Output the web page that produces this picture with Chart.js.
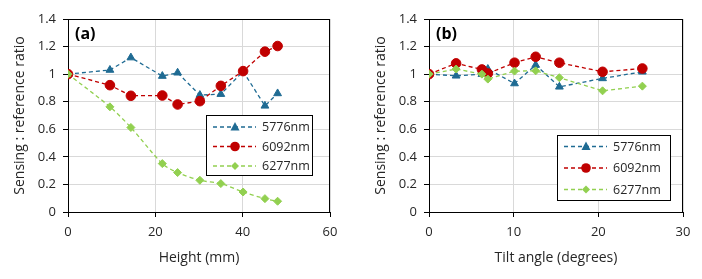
<!DOCTYPE html>
<html>
<head>
<meta charset="utf-8">
<script src="https://cdn.jsdelivr.net/npm/chart.js@4/dist/chart.umd.min.js"></script>
<style>
  html, body { margin: 0; padding: 0; background: #fff; }
  #wrap { position: relative; width: 702px; height: 279px; }
  .panel { position: absolute; top: 0; width: 351px; height: 279px; }
</style>
</head>
<body>
<div id="wrap">
  <div class="panel" style="left:0"><canvas id="chartA" width="351" height="279"></canvas></div>
  <div class="panel" style="left:351px"><canvas id="chartB" width="351" height="279"></canvas></div>
</div>
<script>
// series names
const seriesNames = ["5776nm", "6092nm", "6277nm"];

// panel (a): height in mm
const heightMm = [0, 9.6, 14.4, 21.6, 25.1, 30.2, 35.0, 40.1, 45.1, 48.0];
const a5776 = [1, 1.03, 1.12, 0.986, 1.01, 0.848, 0.855, 1.02, 0.77, 0.86];
const a6092 = [1, 0.92, 0.843, 0.845, 0.78, 0.804, 0.915, 1.022, 1.163, 1.204];
const a6277 = [1, 0.763, 0.613, 0.351, 0.286, 0.23, 0.206, 0.145, 0.097, 0.078];

// panel (b): tilt in degrees
const tiltDeg = [0, 3.2, 6.25, 6.95, 10.1, 12.6, 15.4, 20.5, 25.2];
const b5776 = [1, 0.988, 1.0, 1.037, 0.932, 1.066, 0.908, 0.969, 1.017];
const b6092 = [1, 1.078, 1.034, 1.005, 1.083, 1.126, 1.083, 1.017, 1.041];
const b6277 = [1, 1.037, 1.0, 0.964, 1.022, 1.024, 0.974, 0.879, 0.913];

const yTicks = [0, 0.2, 0.4, 0.6, 0.8, 1, 1.2, 1.4];

const FONT = "'Open Sans', 'Liberation Sans', sans-serif";
const TEXT = "#262626";

const styles = [
  { color: "#1F6B93", point: "triangle", radius: 4.5, order: 3 },
  { color: "#C00000", point: "circle", radius: 4.8, order: 2 },
  { color: "#92D050", point: "rectRot", radius: 4, order: 1 }
];

function pts(xs, ys) {
  return xs.map((x, i) => ({ x, y: ys[i] }));
}

function makeDatasets(xs, series, smoothLast) {
  return series.map((ys, i) => ({
    label: seriesNames[i],
    data: pts(xs, ys),
    borderColor: styles[i].color,
    backgroundColor: styles[i].color,
    borderWidth: 1.3,
    borderDash: [4, 3],
    pointStyle: styles[i].point,
    pointRadius: styles[i].radius,
    pointBackgroundColor: styles[i].color,
    pointBorderColor: styles[i].color,
    pointBorderWidth: 1,
    tension: (smoothLast && i === 2) ? 0.3 : 0,
    order: styles[i].order
  }));
}

function drawMarker(ctx, style, x, y, r) {
  ctx.beginPath();
  if (style === "circle") {
    ctx.arc(x, y, r, 0, Math.PI * 2);
  } else if (style === "triangle") {
    ctx.moveTo(x, y - r * 1.1);
    ctx.lineTo(x + r, y + r * 0.75);
    ctx.lineTo(x - r, y + r * 0.75);
    ctx.closePath();
  } else {
    ctx.moveTo(x, y - r);
    ctx.lineTo(x + r, y);
    ctx.lineTo(x, y + r);
    ctx.lineTo(x - r, y);
    ctx.closePath();
  }
  ctx.fill();
}

// frame, panel tag and boxed legend inside the plot
const decor = {
  id: "decor",
  afterDraw(chart, args, o) {
    const { ctx, chartArea: a } = chart;
    ctx.save();
    ctx.strokeStyle = "#000";
    ctx.lineWidth = 1;
    ctx.beginPath();
    ctx.moveTo(a.left, Math.round(a.top) + 0.5);
    ctx.lineTo(a.right, Math.round(a.top) + 0.5);
    ctx.moveTo(Math.round(a.right) - 0.5, a.top);
    ctx.lineTo(Math.round(a.right) - 0.5, a.bottom);
    ctx.stroke();

    ctx.fillStyle = "#000";
    ctx.font = "bold 16px " + FONT;
    ctx.textBaseline = "middle";
    ctx.textAlign = "left";
    ctx.fillText(o.tag, a.left + 7, a.top + 15);

    const L = o.legend;
    ctx.fillStyle = "#fff";
    ctx.fillRect(L.x, L.y, L.w, L.h);
    ctx.strokeStyle = "#000";
    ctx.strokeRect(L.x + 0.5, L.y + 0.5, L.w - 1, L.h - 1);
    ctx.font = "12.5px " + FONT;
    chart.data.datasets.forEach((ds, i) => {
      const y = L.y + L.first + i * L.step;
      ctx.strokeStyle = ds.borderColor;
      ctx.lineWidth = 1.3;
      ctx.setLineDash([4, 3]);
      ctx.beginPath();
      ctx.moveTo(L.x + 7, y);
      ctx.lineTo(L.x + 50, y);
      ctx.stroke();
      ctx.setLineDash([]);
      ctx.fillStyle = ds.borderColor;
      drawMarker(ctx, ds.pointStyle, L.x + 29, y, ds.pointRadius);
      ctx.fillStyle = TEXT;
      ctx.fillText(ds.label, L.x + 56, y + 0.5);
    });
    ctx.restore();
  }
};

function makeChart(id, xs, series, cfg) {
  return new Chart(document.getElementById(id), {
    type: "line",
    data: { datasets: makeDatasets(xs, series, cfg.smooth) },
    options: {
      responsive: false,
      animation: false,
      devicePixelRatio: 1,
      layout: { padding: { left: 0, right: cfg.padRight, top: 19, bottom: 0 } },
      plugins: {
        legend: { display: false },
        tooltip: { enabled: false },
        decor: { tag: cfg.tag, legend: cfg.legend }
      },
      scales: {
        x: {
          type: "linear",
          min: 0,
          max: cfg.xMax,
          afterFit(s) { s.height = 67; },
          ticks: { stepSize: cfg.xStep, padding: 7, color: TEXT, font: { family: FONT, size: 13 } },
          grid: { color: "#d9d9d9", tickColor: "#000", tickLength: 5 },
          border: { color: "#000" },
          title: { display: true, text: cfg.xTitle, color: TEXT, font: { family: FONT, size: 14 }, padding: { bottom: 13 } }
        },
        y: {
          min: 0,
          max: 1.4,
          afterFit(s) { s.width = cfg.yWidth; },
          afterBuildTicks(s) { s.ticks = yTicks.map(v => ({ value: v })); },
          ticks: { padding: 7, color: TEXT, font: { family: FONT, size: 13 },
                   callback: v => String(+v.toFixed(1)) },
          grid: { color: "#d9d9d9", tickColor: "#000", tickLength: 5 },
          border: { color: "#000" },
          title: { display: true, text: "Sensing : reference ratio", color: TEXT, font: { family: FONT, size: 14 }, padding: { top: cfg.yTitlePad } }
        }
      }
    },
    plugins: [decor]
  });
}

makeChart("chartA", heightMm, [a5776, a6092, a6277], {
  tag: "(a)", xMax: 60, xStep: 20, xTitle: "Height (mm)",
  yWidth: 68, yTitlePad: 12, padRight: 21, smooth: true,
  legend: { x: 206, y: 115, w: 107, h: 61, first: 12, step: 19.5 }
});

makeChart("chartB", tiltDeg, [b5776, b6092, b6277], {
  tag: "(b)", xMax: 30, xStep: 10, xTitle: "Tilt angle (degrees)",
  yWidth: 78, yTitlePad: 22, padRight: 19, smooth: false,
  legend: { x: 206, y: 135, w: 114, h: 66, first: 11.5, step: 21.5 }
});
</script>
</body>
</html>
